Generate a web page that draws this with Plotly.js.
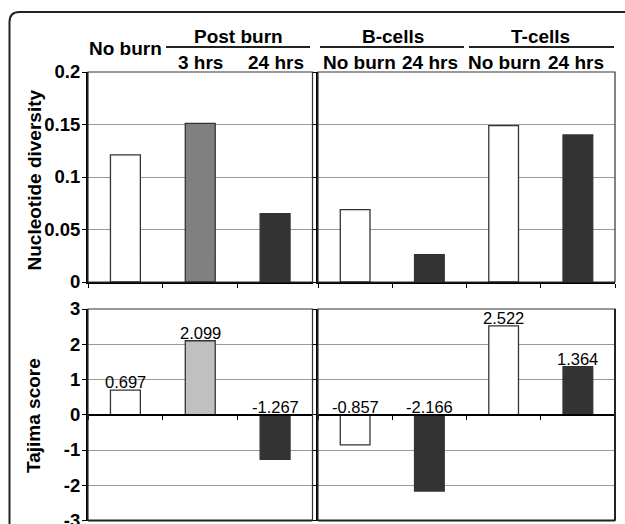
<!DOCTYPE html>
<html>
<head>
<meta charset="utf-8">
<script src="https://cdn.plot.ly/plotly-3.0.1.min.js"></script>
<style>html,body{margin:0;padding:0;background:#fff;}#chart{width:625px;height:524px;}</style>
</head>
<body>
<div id="chart"></div>
<script>
// ---- data ----
var leftCategories = ["No burn", "3 hrs", "24 hrs"];
var rightCategories = ["B-cells No burn", "B-cells 24 hrs", "T-cells No burn", "T-cells 24 hrs"];
var diversityLeft = [0.121, 0.151, 0.065];
var diversityRight = [0.069, 0.026, 0.149, 0.140];
var tajimaLeft = [0.697, 2.099, -1.267];
var tajimaRight = [-0.857, -2.166, 2.522, 1.364];
var diversityTicks = [0, 0.05, 0.1, 0.15, 0.2];
var diversityTickText = ["0", "0.05", "0.1", "0.15", "0.2"];
var tajimaTicks = [-3, -2, -1, 0, 1, 2, 3];
var tajimaTickText = ["-3", "-2", "-1", "0", "1", "2", "3"];
var subLabelsLeft = ["3 hrs", "24 hrs"];
var subLabelsRight = ["No burn", "24 hrs", "No burn", "24 hrs"];
var groupLabels = ["Post burn", "B-cells", "T-cells"];
var yTitles = ["Nucleotide diversity", "Tajima score"];

// ---- styles ----
var W = 625, H = 524;
function px(x){ return x / W; }
function py(y){ return 1 - y / H; }
var FONT = "Liberation Sans, Arial, sans-serif";
var colTopLeft = ["#ffffff", "#808080", "#333333"];
var colTopRight = ["#ffffff", "#333333", "#ffffff", "#333333"];
var colBotLeft = ["#ffffff", "#c0c0c0", "#333333"];
var colBotRight = ["#ffffff", "#333333", "#ffffff", "#333333"];

function barTrace(x, y, colors, xa, ya){
  return {type: "bar", x: x, y: y, xaxis: xa, yaxis: ya,
    marker: {color: colors, line: {color: "#333333", width: 1.3}},
    hoverinfo: "none", showlegend: false};
}

var data = [
  barTrace(leftCategories, diversityLeft, colTopLeft, "x", "y"),
  barTrace(rightCategories, diversityRight, colTopRight, "x2", "y2"),
  barTrace(leftCategories, tajimaLeft, colBotLeft, "x3", "y3"),
  barTrace(rightCategories, tajimaRight, colBotRight, "x4", "y4")
];

var domLeft = [px(88), px(312.5)];
var domRight = [px(318), px(615)];
var domTop = [py(282), py(72)];
var domBot = [py(520.5), py(309)];
var topRange = [0, 0.2];
var botRange = [-3, 3];
var zeroPos = domBot[0] + (0 - botRange[0]) / (botRange[1] - botRange[0]) * (domBot[1] - domBot[0]);

function xAxis(dom, n, anchor, extra){
  var a = {domain: dom, type: "category", range: [-0.5, n - 0.5], anchor: anchor,
    showline: true, linecolor: "#000", linewidth: 2, ticks: "outside", tickson: "boundaries",
    ticklen: 4, tickcolor: "#000", tickwidth: 1, showticklabels: false, showgrid: false,
    zeroline: false, fixedrange: true};
  for (var k in extra) a[k] = extra[k];
  return a;
}
function yAxis(dom, range, tv, tt, anchor, labels){
  return {domain: dom, range: range, tickmode: "array", tickvals: tv, ticktext: tt, anchor: anchor,
    showline: true, linecolor: "#000", linewidth: 2, ticks: "outside", ticklen: 4,
    tickcolor: "#000", tickwidth: 1, showticklabels: labels, ticklabeloverflow: "allow",
    ticklabelstandoff: -2,
    tickfont: {family: FONT, size: 18.5, color: "#000", weight: "bold"},
    showgrid: true, gridcolor: "#999999", gridwidth: 1, zeroline: false, fixedrange: true};
}

var annotations = [];
function ann(text, x, y, size, bold, extra){
  var a = {text: text, x: x, y: y, xref: "paper", yref: "paper", showarrow: false,
    xanchor: "center", yanchor: "middle",
    font: {family: FONT, size: size, color: "#000", weight: bold ? "bold" : "normal"}};
  for (var k in extra) a[k] = extra[k];
  annotations.push(a);
}
// headers
ann(leftCategories[0], px(125.5), py(48.5), 19, true);
ann(groupLabels[0], px(238.5), py(36.5), 19, true);
ann(groupLabels[1], px(392.5), py(36.5), 19, true);
ann(groupLabels[2], px(540), py(36.5), 19, true);
var subX = [200, 276];
subLabelsLeft.forEach(function(t, i){ ann(t, px(subX[i]), py(62.5), 19, true); });
var subXR = [359.5, 429.5, 504.5, 575.5];
subLabelsRight.forEach(function(t, i){ ann(t, px(subXR[i]), py(62.5), 19, true); });
// y titles
ann(yTitles[0], px(33.5), py(180), 19, true, {textangle: -90});
ann(yTitles[1], px(33.5), py(415.5), 19, true, {textangle: -90});
// data labels
function valueLabels(cats, vals, xa, ya){
  cats.forEach(function(c, i){
    annotations.push({text: String(vals[i]), x: c, y: Math.max(vals[i], 0), xref: xa, yref: ya,
      showarrow: false, xanchor: "center", yanchor: "bottom", yshift: -3,
      font: {family: FONT, size: 16.5, color: "#000"}});
  });
}
valueLabels(leftCategories, tajimaLeft, "x3", "y3");
valueLabels(rightCategories, tajimaRight, "x4", "y4");

var shapes = [];
// panel borders
[["x","y"],["x2","y2"],["x3","y3"],["x4","y4"]].forEach(function(p){
  shapes.push({type: "rect", xref: p[0] + " domain", yref: p[1] + " domain", x0: 0, x1: 1, y0: 0, y1: 1,
    line: {color: "#333333", width: 1.2}});
});
shapes.push({type: "line", xref: "x4 domain", yref: "y4 domain", x0: 1, x1: 1, y0: 0, y1: 1,
  line: {color: "#222", width: 2}});
shapes.push({type: "line", xref: "x3 domain", yref: "y3 domain", x0: 0, x1: 1, y0: 0, y1: 0,
  line: {color: "#222", width: 2}});
shapes.push({type: "line", xref: "x4 domain", yref: "y4 domain", x0: 0, x1: 1, y0: 0, y1: 0,
  line: {color: "#222", width: 2}});
// header lines
[[166, 310], [320, 464], [469, 614]].forEach(function(s){
  shapes.push({type: "line", xref: "paper", yref: "paper", x0: px(s[0]), x1: px(s[1]), y0: py(47), y1: py(47),
    line: {color: "#222", width: 2}});
});
// outer rounded frame
var fp = "M " + px(9.5) + "," + py(540) + " L " + px(9.5) + "," + py(22) +
  " Q " + px(9.5) + "," + py(12) + " " + px(19.5) + "," + py(12) + " L " + px(640) + "," + py(12);
shapes.push({type: "path", xref: "paper", yref: "paper", path: fp, line: {color: "#222", width: 2}});

var layout = {
  width: W, height: H, margin: {l: 0, r: 0, t: 0, b: 0},
  paper_bgcolor: "#fff", plot_bgcolor: "#fff",
  bargap: 0.6, showlegend: false,
  font: {family: FONT, color: "#000"},
  xaxis: xAxis(domLeft, 3, "y", {}),
  yaxis: yAxis(domTop, topRange, diversityTicks, diversityTickText, "x", true),
  xaxis2: xAxis(domRight, 4, "y2", {}),
  yaxis2: yAxis(domTop, topRange, diversityTicks, diversityTickText, "x2", false),
  xaxis3: xAxis(domLeft, 3, "free", {position: zeroPos}),
  yaxis3: yAxis(domBot, botRange, tajimaTicks, tajimaTickText, "x3", true),
  xaxis4: xAxis(domRight, 4, "free", {position: zeroPos}),
  yaxis4: yAxis(domBot, botRange, tajimaTicks, tajimaTickText, "x4", false),
  annotations: annotations,
  shapes: shapes
};

Plotly.newPlot("chart", data, layout, {staticPlot: true, displayModeBar: false});
</script>
</body>
</html>
